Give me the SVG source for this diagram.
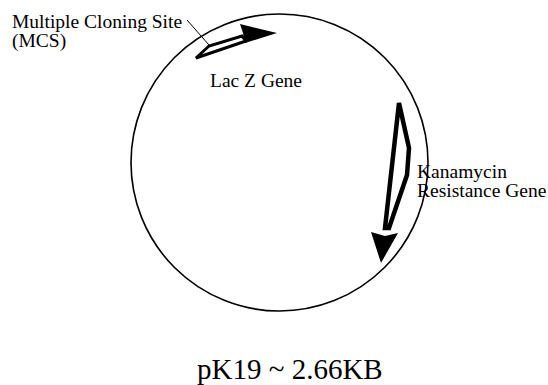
<svg xmlns="http://www.w3.org/2000/svg" width="548" height="385" viewBox="0 0 548 385">
<style>
.lbl{font-size:19.5px}
.gene{fill:none;stroke:#000;stroke-linejoin:miter}
.head{fill:#000;stroke:none}
</style>
<rect width="548" height="385" fill="#fff"/>
<g id="plasmid">
<circle cx="279.5" cy="162.5" r="148.5" fill="none" stroke="#000" stroke-width="1.6"/>
</g>
<g font-family="'Liberation Serif', 'Times New Roman', Times, 'DejaVu Serif', serif" fill="#000">
<g id="lacz">
<polygon class="gene" stroke-width="3" points="196,58 209,46 242,36 246,41"/>
<polygon class="head" points="240,24 277,33 245,43 243,33"/>
<text class="lbl" x="210" y="87">Lac Z Gene</text>
</g>
<g id="mcs">
<text class="lbl" x="12" y="28" font-size="20">Multiple Cloning Site</text>
<text class="lbl" x="12" y="47" font-size="20">(MCS)</text>
</g>
<g id="kan">
<polygon class="gene" stroke-width="4.5" points="399,103 409,148 407,175 389,228 385,228"/>
<polygon class="head" points="371,232 385,236 398,233 381,263"/>
<text class="lbl" x="417" y="178">Kanamycin</text>
<text class="lbl" x="417" y="197">Resistance Gene</text>
</g>
<g id="title">
<text x="197" y="379" font-size="29">pK19 ~ 2.66KB</text>
</g>
</g>
<g id="connectors">
<line x1="187" y1="20" x2="209" y2="45" stroke="#000" stroke-width="1"/>
</g>
</svg>
